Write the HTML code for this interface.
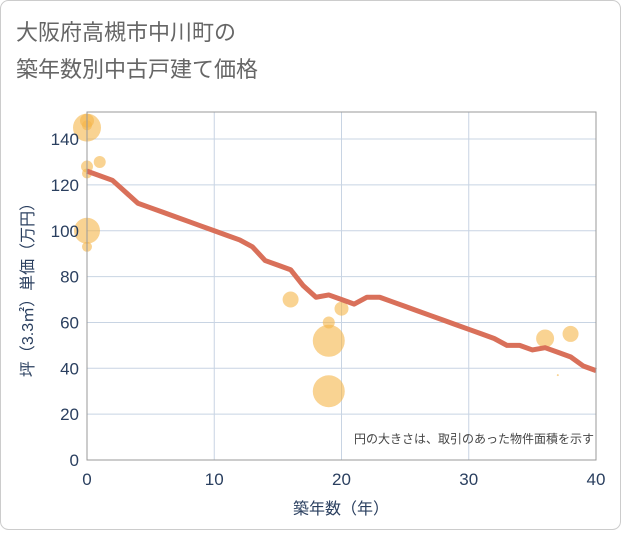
<!DOCTYPE html>
<html><head><meta charset="utf-8"><style>
body{margin:0;background:#fff}
svg text{font-family:"Liberation Sans","Noto Sans CJK JP",sans-serif}
</style></head><body>
<svg width="621" height="530" viewBox="0 0 621 530">
<rect x="0.5" y="0.5" width="620" height="529" rx="8" fill="#fff" stroke="#ccc"/>
<text x="16" y="40" font-size="22" fill="#666">大阪府高槻市中川町の</text>
<text x="16" y="77" font-size="22" fill="#666">築年数別中古戸建て価格</text>
<g id="grid"></g>
<g id="bubbles"></g>
<g id="line"></g>
<g id="axes"></g>
<text x="594" y="443" font-size="12" fill="#444" text-anchor="end">円の大きさは、取引のあった物件面積を示す</text>
<text x="341" y="514" font-size="16" fill="#2a3f5f" text-anchor="middle">築年数（年）</text>
<text transform="translate(33,286) rotate(-90)" font-size="16" fill="#2a3f5f" text-anchor="middle">坪（3.3㎡）単価（万円）</text>
</svg>
<script>
const xTicks=[0,10,20,30,40];
const yTicks=[0,20,40,60,80,100,120,140];
const lineYears=[0,2,3,4,5,6,7,8,9,10,11,12,13,14,15,16,17,18,19,20,21,22,23,24,25,26,27,28,29,30,31,32,33,34,35,36,37,38,39,40];
const lineValues=[126,122,117,112,110,108,106,104,102,100,98,96,93,87,85,83,76,71,72,70,68,71,71,69,67,65,63,61,59,57,55,53,50,50,48,49,47,45,41,39];
const bubbleYears=[0,0,0,0,0,1,0,0,16,19,19,20,19,36,38,37];
const bubbleValues=[145,148,146,128,125,130,100,93,70,60,52,66,30,53,55,37];
const bubbleSizes=[14,7,5,6,5,6,13,5,8,6,16,7,16,9,8,1];
const L=87,R=596,T=112,B=460;
const sx=v=>L+(R-L)*v/40, sy=v=>B-(B-T)*v/151.8;
const NS='http://www.w3.org/2000/svg';
function mk(t,a,p){const e=document.createElementNS(NS,t);for(const k in a)e.setAttribute(k,a[k]);p.appendChild(e);return e;}
const g=document.getElementById('grid'),ax=document.getElementById('axes');
xTicks.forEach(t=>{const l=mk('line',{x1:sx(t),x2:sx(t),y1:T,y2:B,stroke:'#c8d4e3'},g);

const tx=mk('text',{x:sx(t),y:B+25,'font-size':17,fill:'#2a3f5f','text-anchor':'middle'},ax);tx.textContent=t;
});
yTicks.forEach(t=>{const l=mk('line',{x1:L,x2:R,y1:sy(t),y2:sy(t),stroke:'#c8d4e3'},g);

const tx=mk('text',{x:L-8,y:sy(t)+6,'font-size':17,fill:'#2a3f5f','text-anchor':'end'},ax);tx.textContent=t;
});
const fr=mk('rect',{x:L,y:T,width:R-L,height:B-T,fill:'none',stroke:'#999'},ax);

const bg=document.getElementById('bubbles');
bubbleYears.forEach((y,i)=>{const c=mk('circle',{cx:sx(y),cy:sy(bubbleValues[i]),r:bubbleSizes[i],fill:'#f5b54a','fill-opacity':0.6},bg);
});
const p=mk('polyline',{points:lineYears.map((y,i)=>sx(y)+','+sy(lineValues[i])).join(' '),fill:'none',stroke:'#d9705a','stroke-width':5,'stroke-linejoin':'round'},document.getElementById('line'));

</script>
</body></html>
